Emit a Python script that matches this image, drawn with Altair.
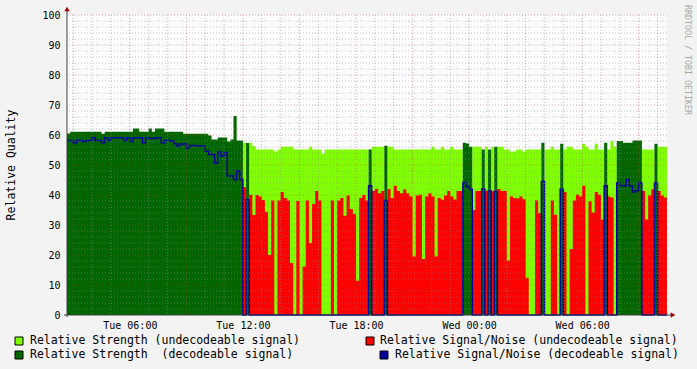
import altair as alt
import pandas as pd

# ---- data (10-minute steps starting Tue 02:40) ----
START = "2024-01-02 02:40"
STEP_MIN = 10

strength = [
    60.5, 61.1, 61.1, 61.1, 61.1, 61.1, 61.1, 61.1, 61.1, 61.1,
    61.1, 60.4, 61.1, 61.1, 61.1, 61.1, 61.1, 61.1, 61.1, 61.1,
    61.1, 62.2, 62.2, 61.1, 61.1, 61.1, 62.2, 61.1, 62.2, 62.2,
    62.2, 61.1, 61.1, 61.1, 61.1, 61.1, 61.1, 60.4, 60.4, 60.4,
    60.4, 60.4, 60.4, 60.4, 60.4, 59.8, 58.5, 58.5, 59.2, 59.2,
    59.2, 57.8, 58.5, 66.3, 58.2, 58.2, 57.4, 57.3, 57.4, 56.3,
    55.2, 55.2, 55.2, 55.2, 55.2, 55.2, 54.5, 55.2, 56.1, 56.1,
    56.1, 56.1, 55.2, 55.2, 55.2, 55.2, 55.2, 56.1, 55.2, 55.2,
    55.2, 53.8, 55.2, 55.2, 55.2, 55.2, 55.2, 55.2, 55.2, 55.2,
    55.2, 55.2, 55.2, 55.2, 55.2, 55.2, 55.2, 56.1, 56.1, 56.1,
    56.1, 56.4, 56.1, 56.1, 55.2, 55.2, 55.2, 55.2, 55.2, 55.2,
    55.2, 55.2, 55.2, 55.2, 55.2, 55.2, 56.1, 55.2, 55.2, 56.1,
    55.2, 55.2, 56.1, 55.2, 55.2, 55.2, 57.4, 57.2, 56.1, 56.1,
    56.1, 56.1, 55.2, 56.1, 55.2, 56.1, 56.1, 56.1, 56.1, 55.2,
    55.2, 54.5, 54.5, 55.2, 55.2, 54.5, 55.2, 55.2, 55.2, 55.2,
    55.2, 57.4, 55.2, 55.2, 56.1, 55.2, 55.2, 57.1, 55.2, 56.1,
    56.1, 55.2, 55.2, 55.2, 57.1, 56.1, 55.2, 55.2, 57.1, 55.2,
    55.2, 57.4, 55.2, 58.0, 56.1, 58.0, 58.0, 57.4, 57.4, 57.4,
    58.2, 58.2, 58.2, 55.2, 55.2, 55.2, 55.2, 57.1, 56.1, 56.1,
    56.1,
]

snr = [
    58.2, 58.2, 57.4, 58.2, 58.2, 57.8, 58.2, 58.2, 59.1, 58.2,
    58.2, 57.4, 59.1, 58.2, 59.1, 59.1, 59.1, 59.1, 58.2, 59.1,
    57.8, 59.1, 59.1, 59.1, 57.4, 59.1, 58.8, 58.8, 59.1, 59.1,
    57.4, 58.2, 58.2, 58.0, 57.1, 56.3, 57.0, 57.0, 55.7, 56.5,
    56.5, 56.3, 56.3, 56.3, 54.6, 53.5, 53.5, 50.7, 54.3, 53.0,
    54.2, 46.3, 46.3, 45.2, 48.0, 45.2, 42.6, 38.4, 40.0, 33.3,
    40.0, 39.5, 38.3, 34.4, 20.0, 38.2, 0.0, 38.2, 41.0, 39.0,
    38.2, 17.3, 0.0, 38.0, 0.0, 16.2, 38.2, 24.0, 37.0, 41.3,
    38.2, 0.0, 0.0, 0.0, 38.2, 0.0, 38.2, 39.0, 33.1, 39.8,
    35.3, 33.7, 11.4, 39.0, 40.0, 38.2, 43.1, 41.3, 42.0, 40.6,
    41.3, 38.2, 42.0, 39.0, 43.1, 41.3, 40.6, 41.8, 40.6, 39.5,
    19.5, 39.8, 40.1, 18.7, 39.5, 40.6, 39.5, 19.5, 39.0, 38.4,
    39.8, 41.3, 39.5, 38.5, 41.3, 41.3, 44.2, 42.8, 41.9, 35.0,
    41.3, 41.3, 42.0, 41.3, 41.3, 41.3, 41.2, 42.0, 41.3, 41.3,
    18.2, 39.5, 39.0, 38.8, 39.5, 38.6, 12.4, 0.0, 0.0, 38.2,
    33.9, 44.5, 0.0, 0.0, 38.2, 33.4, 0.0, 41.9, 41.0, 0.0,
    22.0, 38.2, 40.1, 39.5, 43.1, 0.0, 37.9, 34.2, 41.0, 40.1,
    31.8, 43.1, 39.5, 39.2, 0.0, 44.0, 43.1, 43.1, 45.2, 43.0,
    41.0, 41.5, 44.0, 41.3, 31.8, 39.8, 41.9, 44.0, 41.3, 39.8,
    39.2,
]

decodeable = [
    1, 1, 1, 1, 1, 1, 1, 1, 1, 1,
    1, 1, 1, 1, 1, 1, 1, 1, 1, 1,
    1, 1, 1, 1, 1, 1, 1, 1, 1, 1,
    1, 1, 1, 1, 1, 1, 1, 1, 1, 1,
    1, 1, 1, 1, 1, 1, 1, 1, 1, 1,
    1, 1, 1, 1, 1, 1, 0, 1, 0, 0,
    0, 0, 0, 0, 0, 0, 0, 0, 0, 0,
    0, 0, 0, 0, 0, 0, 0, 0, 0, 0,
    0, 0, 0, 0, 0, 0, 0, 0, 0, 0,
    0, 0, 0, 0, 0, 0, 1, 0, 0, 0,
    0, 1, 0, 0, 0, 0, 0, 0, 0, 0,
    0, 0, 0, 0, 0, 0, 0, 0, 0, 0,
    0, 0, 0, 0, 0, 0, 1, 1, 1, 0,
    0, 0, 1, 0, 1, 0, 1, 0, 0, 0,
    0, 0, 0, 0, 0, 0, 0, 0, 0, 0,
    0, 1, 0, 0, 0, 0, 0, 1, 0, 0,
    0, 0, 0, 0, 0, 0, 0, 0, 0, 0,
    0, 1, 0, 0, 0, 1, 1, 1, 1, 1,
    1, 1, 1, 0, 0, 0, 0, 1, 0, 0,
    0,
]

x_labels = ["2024-01-02 06:00", "2024-01-02 12:00", "2024-01-02 18:00",
            "2024-01-03 00:00", "2024-01-03 06:00"]
y_labels = [0, 10, 20, 30, 40, 50, 60, 70, 80, 90, 100]
y_major = [10, 20, 30, 40, 50, 60, 70, 80, 90, 100]
y_minor = [2, 4, 6, 8, 12, 14, 16, 18, 22, 24, 26, 28, 32, 34, 36, 38,
           42, 44, 46, 48, 52, 54, 56, 58, 62, 64, 66, 68, 72, 74, 76, 78,
           82, 84, 86, 88, 92, 94, 96, 98]
x_major = ["2024-01-02 03:00", "2024-01-02 06:00", "2024-01-02 09:00",
           "2024-01-02 12:00", "2024-01-02 15:00", "2024-01-02 18:00",
           "2024-01-02 21:00", "2024-01-03 00:00", "2024-01-03 03:00",
           "2024-01-03 06:00", "2024-01-03 09:00"]

MONO = "DejaVu Sans Mono"
C_LG, C_DG, C_RED, C_BLUE = "#80ff00", "#006600", "#ff0000", "#00009c"

# ---- build table ----
times = pd.date_range(START, periods=len(strength) + 1, freq=f"{STEP_MIN}min")
rows = []
for i in range(len(strength) + 1):
    k = min(i, len(strength) - 1)
    d = decodeable[k]
    rows.append({
        "t": times[i].strftime("%Y-%m-%dT%H:%M:%S"),
        "lg": 0.0 if d else strength[k],
        "dg": strength[k] if d else 0.0,
        "red": 0.0 if d else snr[k],
        "blue": snr[k] if d else 0.0,
    })
df = pd.DataFrame(rows)

x_minor = [t.strftime("%Y-%m-%dT%H:%M:%S")
           for t in pd.date_range("2024-01-02 03:00", "2024-01-03 10:00", freq="1h")
           if t.strftime("%Y-%m-%d %H:%M") not in x_major]
x_major_iso = [s.replace(" ", "T") + ":00" for s in x_major]

def dt(s):
    ts = pd.Timestamp(s)
    return alt.DateTime(year=ts.year, month=ts.month, date=ts.day,
                        hours=ts.hour, minutes=ts.minute)

xscale = alt.Scale(domain=[dt("2024-01-02 02:40"), dt("2024-01-03 10:30")])
yscale = alt.Scale(domain=[0, 100], nice=False, zero=True)

x_axis = alt.Axis(values=[dt(s) for s in x_labels], format="%a %H:%M",
                  grid=False, ticks=False, domain=False, title=None,
                  labelFont=MONO, labelFontSize=10, labelColor="#000",
                  labelPadding=5, labelAngle=0)
y_axis = alt.Axis(values=y_labels, grid=False, ticks=False, domain=False,
                  title=None, labelFont=MONO, labelFontSize=10, labelColor="#000",
                  labelPadding=7)

def X(field):
    return alt.X(field, scale=xscale, axis=x_axis, title=None)

def Y(field):
    return alt.Y(field, scale=yscale, axis=y_axis, title=None)

base = alt.Chart(df)
a_lg = base.mark_area(interpolate="step-after", color=C_LG).encode(x=X("t:T"), y=Y("lg:Q"))
a_dg = base.mark_area(interpolate="step-after", color=C_DG).encode(x=X("t:T"), y=Y("dg:Q"))
a_red = base.mark_area(interpolate="step-after", color=C_RED).encode(x=X("t:T"), y=Y("red:Q"))
l_blue = base.mark_line(interpolate="step-after", color=C_BLUE, strokeWidth=1.5).encode(
    x=X("t:T"), y=Y("blue:Q"))

g_ymin = alt.Chart(pd.DataFrame({"v": y_minor})).mark_rule(
    color="#8c8c8c", opacity=0.55, strokeDash=[1, 2], strokeWidth=1).encode(y=Y("v:Q"))
g_ymaj = alt.Chart(pd.DataFrame({"v": y_major})).mark_rule(
    color="#c03030", opacity=0.45, strokeDash=[1, 2], strokeWidth=1).encode(y=Y("v:Q"))
g_xmin = alt.Chart(pd.DataFrame({"t": x_minor})).mark_rule(
    color="#8c8c8c", opacity=0.55, strokeDash=[1, 2], strokeWidth=1).encode(x=X("t:T"))
g_xmaj = alt.Chart(pd.DataFrame({"t": x_major_iso})).mark_rule(
    color="#c03030", opacity=0.45, strokeDash=[1, 2], strokeWidth=1).encode(x=X("t:T"))

one = pd.DataFrame({"k": [0]})
AXC = "#404040"
y_line = alt.Chart(one).mark_rule(color=AXC, strokeWidth=1).encode(
    x=alt.value(0), y=alt.value(-6), y2=alt.value(302))
x_line = alt.Chart(one).mark_rule(color=AXC, strokeWidth=1).encode(
    x=alt.value(-3), x2=alt.value(605), y=alt.value(300))
arrow_up = alt.Chart(one).mark_point(shape="triangle-up", filled=True, color="#a00000",
                                     size=28, opacity=1).encode(x=alt.value(0), y=alt.value(-6))
arrow_rt = alt.Chart(one).mark_point(shape="triangle-right", filled=True, color="#a00000",
                                     size=28, opacity=1).encode(x=alt.value(606), y=alt.value(300))

def legend(xb, yc, color, label, xt):
    box = alt.Chart(one).mark_rect(color=color, stroke="#000", strokeWidth=1).encode(
        x=alt.value(xb), x2=alt.value(xb + 8), y=alt.value(yc - 4), y2=alt.value(yc + 4))
    txt = alt.Chart(one).mark_text(align="left", baseline="middle", font=MONO,
                                   fontSize=11.5, color="#000", text=label).encode(
        x=alt.value(xt), y=alt.value(yc))
    return [box, txt]

leg = (legend(-52, 326, C_LG, "Relative Strength (undecodeable signal)", -37)
       + legend(299, 326, C_RED, "Relative Signal/Noise (undecodeable signal)", 313)
       + legend(-52, 340, C_DG, "Relative Strength\u00a0 (decodeable signal)", -37)
       + legend(313, 340, C_BLUE, "Relative Signal/Noise (decodeable signal)", 328))

y_title = alt.Chart(one).mark_text(text="Relative Quality", angle=270, font=MONO,
                                   fontSize=11.5, color="#000", align="center",
                                   baseline="middle").encode(x=alt.value(-55), y=alt.value(150))
wmark = alt.Chart(one).mark_text(text="RRDTOOL / TOBI OETIKER", angle=90, font=MONO,
                                 fontSize=8.3, color="#a8a8a8", align="center",
                                 baseline="middle").encode(x=alt.value(620), y=alt.value(45))

chart = alt.layer(
    a_lg, a_dg, a_red, l_blue, g_ymin, g_ymaj, g_xmin, g_xmaj,
    y_line, x_line, arrow_up, arrow_rt, y_title, wmark, *leg
).properties(
    width=600, height=300, background="#f3f3f3",
    padding={"left": 67, "top": 15, "right": 30, "bottom": 54},
    autosize=alt.AutoSizeParams(type="none"),
).configure_view(strokeWidth=0, fill="white")

chart.save("out.html", embed_options={"renderer": "svg", "actions": False})
